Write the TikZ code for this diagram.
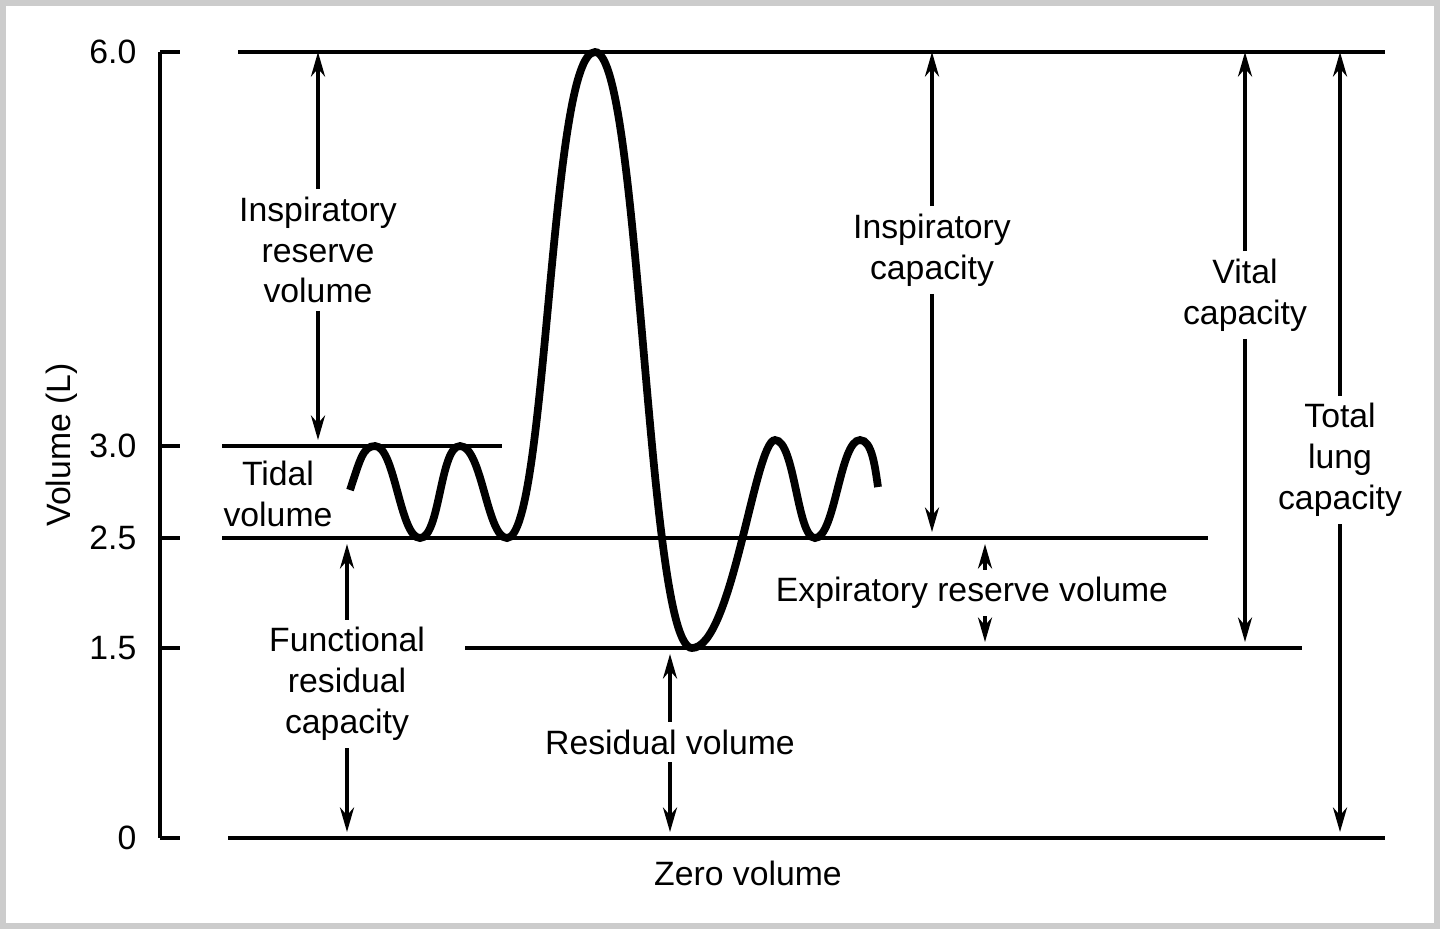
\documentclass[tikz,border=0pt]{standalone}
\usepackage{fontspec}
\setmainfont{Liberation Sans}
\usetikzlibrary{arrows.meta}
\tikzset{
    level/.style={line width=1.1pt},
    measure/.style={-{Stealth[length=7pt,width=4pt]}, line width=1pt},
    lbl/.style={align=center, font=\fontsize{9.6}{11.6}\selectfont, inner sep=2pt},
    tick/.style={font=\fontsize{9.6}{11}\selectfont, anchor=east},
}
\begin{document}
\begin{tikzpicture}[x=0.01cm, y=-0.01cm]
    \useasboundingbox (0,0) rectangle (1440,929);
    \draw[gray!40, line width=1.5pt] (3,3) rectangle (1437,926);

    % axis with ticks
    \draw[level] (160,52) -- (160,838);
    \foreach \yy/\val in {52/6.0, 446/3.0, 538/2.5, 648/1.5, 838/0}
        \draw[level] (160,\yy) -- (180,\yy) node[tick] at (150,\yy) {\val};
    \node[lbl, rotate=90] (ylab) at (62,445) {Volume (L)};

    % volume levels
    \draw[level] (238,52) -- (1385,52);
    \draw[level] (222,446) -- (502,446);
    \draw[level] (222,538) -- (1208,538);
    \draw[level] (465,648) -- (1302,648);
    \draw[level] (228,838) -- (1385,838);

    % breathing trace
    \draw[line width=2.2pt] (350,490) .. controls +(10,-30) and +(-12,0) .. (375,446)
        .. controls +(20,0) and +(-20,0) .. (420,538)
        .. controls +(20,0) and +(-20,0) .. (460,446)
        .. controls +(22,0) and +(-20,0) .. (507,538)
        .. controls +(40,0) and +(-45,0) .. (595,52)
        .. controls +(45,0) and +(-45,0) .. (692,648)
        .. controls +(40,0) and +(-20,0) .. (775,440)
        .. controls +(20,0) and +(-18,0) .. (815,538)
        .. controls +(20,0) and +(-20,0) .. (860,440)
        .. controls +(12,0) and +(-3,-20) .. (878,487);

    % labels
    \node[lbl] (irv) at (318,250) {Inspiratory\\reserve\\volume};
    \node[lbl] (ic) at (932,250) {Inspiratory\\capacity};
    \node[lbl] (vc) at (1245,295) {Vital\\capacity};
    \node[lbl] (tlc) at (1340,460) {Total\\lung\\capacity};
    \node[lbl] (tv) at (278,494) {Tidal\\volume};
    \node[lbl] (frc) at (347,684) {Functional\\residual\\capacity};
    \node[lbl] (rv) at (670,742) {Residual volume};
    \node[lbl] (erv) at (972,593) {Expiratory reserve volume};
    \node[lbl] (zero) at (748,873) {Zero volume};

    % measuring arrows
    \draw[measure] (irv.north) -- (318,52);
    \draw[measure] (irv.south) -- (318,440);
    \draw[measure] (ic.north) -- (932,52);
    \draw[measure] (ic.south) -- (932,532);
    \draw[measure] (vc.north) -- (1245,52);
    \draw[measure] (vc.south) -- (1245,642);
    \draw[measure] (tlc.north) -- (1340,52);
    \draw[measure] (tlc.south) -- (1340,832);
    \draw[measure] (frc.north) -- (347,544);
    \draw[measure] (frc.south) -- (347,832);
    \draw[measure] (rv.north) -- (670,654);
    \draw[measure] (rv.south) -- (670,832);
    \draw[measure] (erv.north -| 985,0) -- (985,544);
    \draw[measure] (erv.south -| 985,0) -- (985,642);
\end{tikzpicture}
\end{document}
